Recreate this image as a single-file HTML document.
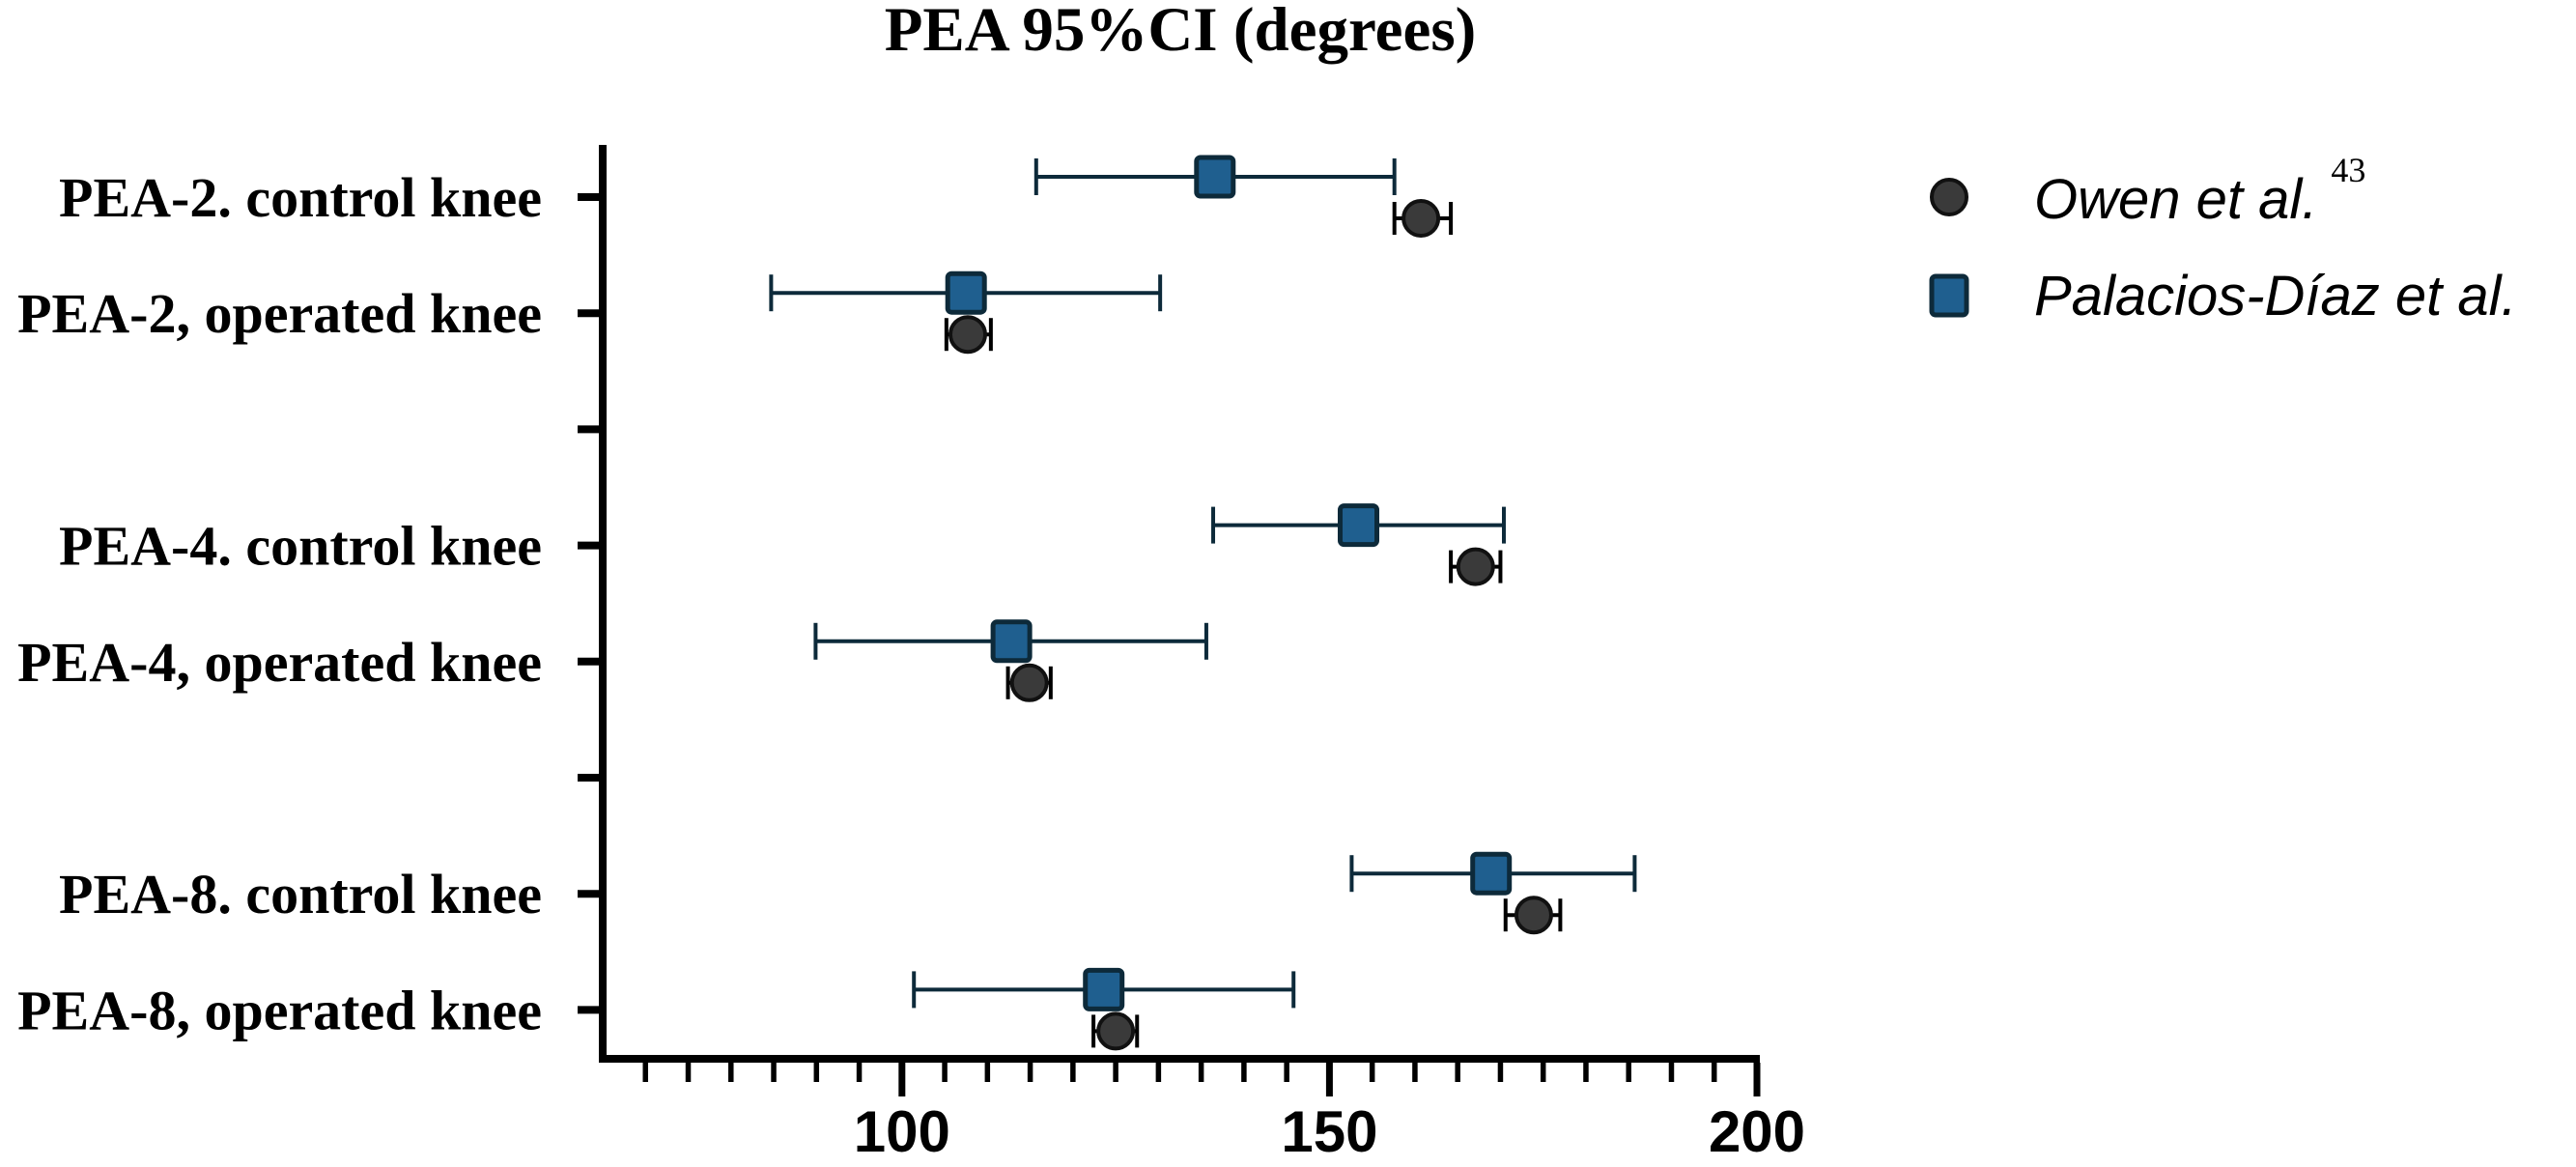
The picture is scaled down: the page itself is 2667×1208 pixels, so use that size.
<!DOCTYPE html>
<html><head><meta charset="utf-8"><style>html,body{margin:0;padding:0;background:#fff}svg{display:block}</style></head>
<body>
<svg id="chart" width="2667" height="1208" viewBox="0 0 2667 1208" xmlns="http://www.w3.org/2000/svg">
<text x="1222" y="52" text-anchor="middle" font-family="Liberation Serif, serif" font-weight="bold" font-size="65">PEA 95%CI (degrees)</text>
<g id="plot"></g>
<g>
<circle cx="2018" cy="204" r="18" fill="#3a3a3a" stroke="#111" stroke-width="4"/>
<text id="owenLabel" x="2106" y="226" font-family="Liberation Sans, sans-serif" font-style="italic" font-size="58">Owen et al.</text>
<text id="owenRef" x="2412" y="188" font-family="Liberation Serif, serif" font-size="36">43</text>
<rect x="2000" y="286" width="36" height="40" rx="4" fill="#1f5f8f" stroke="#0d2a3a" stroke-width="5"/>
<text x="2106" y="326" font-family="Liberation Sans, sans-serif" font-style="italic" font-size="58">Palacios-Díaz et al.</text>
</g>
</svg>
<script>
const categories = ["PEA-2. control knee","PEA-2, operated knee","","PEA-4. control knee","PEA-4, operated knee","","PEA-8. control knee","PEA-8, operated knee"];
const palaciosMean = [136.6,107.5,null,153.4,112.8,null,168.9,123.6];
const palaciosLow  = [115.7,84.7,null,136.4,89.9,null,152.6,101.4];
const palaciosHigh = [157.6,130.2,null,170.4,135.6,null,185.7,145.8];
const owenMean = [160.7,107.7,null,167.1,114.9,null,173.9,125.0];
const owenLow  = [157.6,105.2,null,164.2,112.4,null,170.6,122.4];
const owenHigh = [164.2,110.4,null,170.0,117.4,null,177.0,127.5];
const xTickLabels = [100,150,200];
const xMin = 65, xMax = 200, minorStep = 5;

const NS = "http://www.w3.org/2000/svg";
const g = document.getElementById('plot');
const X0 = 624, X1 = 1819, YTOP = 150, YBOT = 1100;
function xs(v){ return X0 + (v - xMin) / (xMax - xMin) * (X1 - X0); }
function ys(i){ return 204 + i * 120.2; }
function mk(tag, attrs){ const e = document.createElementNS(NS, tag); for (const k in attrs) e.setAttribute(k, attrs[k]); g.appendChild(e); return e; }

// superscript placement
const ol = document.getElementById('owenLabel');
document.getElementById('owenRef').setAttribute('x', 2106 + ol.getComputedTextLength() + 14);

let ya = mk('line', {x1:X0, y1:YTOP, x2:X0, y2:YBOT, stroke:'#000', 'stroke-width':8});


let xa = mk('line', {x1:X0-4, y1:YBOT-4, x2:X1+3, y2:YBOT-4, stroke:'#000', 'stroke-width':8});



for (let v = xMin + minorStep; v <= xMax; v += minorStep) {
  const major = xTickLabels.includes(v);
  const t = mk('line', {x1:xs(v), y1:YBOT, x2:xs(v), y2:YBOT + (major ? 35 : 20), stroke:'#000', 'stroke-width': major ? 7 : 5.5});
  
  
}
xTickLabels.forEach(v => {
  const t = mk('text', {x:xs(v), y:1192, 'text-anchor':'middle', 'font-family':'Liberation Sans, sans-serif', 'font-weight':'bold', 'font-size':60});
  t.textContent = v;
  
  
});

categories.forEach((c, i) => {
  const y = ys(i);
  const t = mk('line', {x1:X0-26, y1:y, x2:X0, y2:y, stroke:'#000', 'stroke-width':8});
  
  
  if (c) {
    const l = mk('text', {x:561, y:y+20, 'text-anchor':'end', 'font-family':'Liberation Serif, serif', 'font-weight':'bold', 'font-size':58});
    l.textContent = c;
    
    
  }
});

categories.forEach((c, i) => {
  if (palaciosMean[i] == null) return;
  const yp = ys(i) - 21, yo = ys(i) + 22;
  let e = mk('line', {x1:xs(palaciosLow[i]), y1:yp, x2:xs(palaciosHigh[i]), y2:yp, stroke:'#0d2a3a', 'stroke-width':4});
  
  
  [palaciosLow[i], palaciosHigh[i]].forEach(v => {
    const cp = mk('line', {x1:xs(v), y1:yp-19, x2:xs(v), y2:yp+19, stroke:'#0d2a3a', 'stroke-width':4});
    
    
  });
  e = mk('line', {x1:xs(owenLow[i]), y1:yo, x2:xs(owenHigh[i]), y2:yo, stroke:'#000', 'stroke-width':4});
  
  
  [owenLow[i], owenHigh[i]].forEach(v => {
    const cp = mk('line', {x1:xs(v), y1:yo-17, x2:xs(v), y2:yo+17, stroke:'#000', 'stroke-width':4});
    
    
  });
  const sq = mk('rect', {x:xs(palaciosMean[i])-19, y:yp-20, width:38, height:40, rx:4, fill:'#1f5f8f', stroke:'#0d2a3a', 'stroke-width':5});
  
  
  const ci = mk('circle', {cx:xs(owenMean[i]), cy:yo, r:18, fill:'#3a3a3a', stroke:'#111', 'stroke-width':4});
  
  
});
</script>
</body></html>
